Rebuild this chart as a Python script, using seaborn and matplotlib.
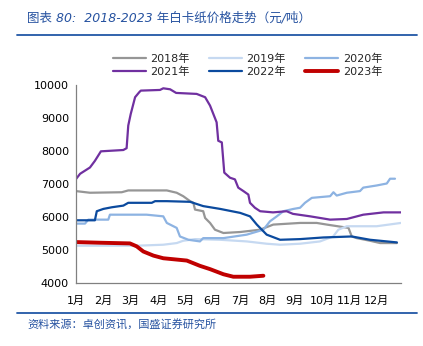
import numpy as np
import pandas as pd
import matplotlib
matplotlib.use("Agg")
import matplotlib.pyplot as plt
import seaborn as sns

# ---- data (x in months from Jan 1, value in yuan/ton) ----
x2018 = [0, 0.51, 1.67, 1.91, 3.32, 3.68, 3.92, 4.17, 4.29, 4.35, 4.65, 4.72, 4.90, 5.08, 5.39, 6.0, 6.73, 7.21, 8.19, 8.80, 9.17, 9.96, 10.08, 10.26, 10.75, 11.12, 11.73]
y2018 = [6785, 6735, 6750, 6805, 6805, 6735, 6630, 6480, 6430, 6225, 6175, 5970, 5820, 5615, 5515, 5545, 5615, 5770, 5820, 5820, 5770, 5670, 5410, 5360, 5280, 5210, 5210]

x2019 = [0, 2.22, 3.19, 3.68, 3.92, 4.35, 5.27, 6.24, 6.97, 7.46, 8.19, 8.92, 9.40, 9.59, 9.90, 10.99, 11.88]
y2019 = [5130, 5130, 5160, 5210, 5280, 5330, 5310, 5260, 5190, 5160, 5190, 5260, 5410, 5615, 5720, 5720, 5820]

x2020 = [0, 0.33, 0.45, 1.18, 1.24, 2.58, 3.19, 3.32, 3.68, 3.80, 4.11, 4.53, 4.65, 5.39, 6.24, 6.85, 7.09, 7.34, 7.58, 7.95, 8.19, 8.37, 8.62, 9.29, 9.41, 9.53, 9.90, 10.38, 10.50, 10.99, 11.36, 11.48, 11.66]
y2020 = [5800, 5800, 5920, 5920, 6070, 6070, 6020, 5820, 5670, 5410, 5310, 5260, 5360, 5360, 5465, 5615, 5870, 6020, 6175, 6245, 6280, 6430, 6580, 6630, 6750, 6650, 6735, 6785, 6890, 6955, 7015, 7160, 7160]

x2021 = [0, 0.15, 0.51, 0.69, 0.91, 1.73, 1.85, 1.91, 2.0, 2.16, 2.31, 2.37, 3.07, 3.19, 3.44, 3.66, 4.41, 4.72, 4.90, 5.14, 5.20, 5.33, 5.42, 5.63, 5.81, 5.93, 6.12, 6.30, 6.36, 6.54, 6.73, 7.20, 7.70, 7.93, 8.56, 9.29, 9.90, 10.50, 11.24, 11.88]
y2021 = [7150, 7310, 7500, 7700, 7990, 8030, 8085, 8770, 9120, 9630, 9780, 9830, 9850, 9900, 9870, 9760, 9730, 9630, 9375, 8870, 8310, 8260, 7345, 7190, 7140, 6890, 6785, 6680, 6430, 6280, 6175, 6140, 6175, 6095, 6020, 5920, 5940, 6070, 6140, 6140]

x2022 = [0, 0.69, 0.76, 1.0, 1.31, 1.73, 1.91, 2.77, 2.89, 3.32, 4.17, 4.65, 5.27, 6.0, 6.36, 6.61, 6.97, 7.46, 8.19, 9.04, 10.08, 10.75, 11.73]
y2022 = [5900, 5900, 6175, 6245, 6295, 6345, 6430, 6430, 6480, 6480, 6460, 6330, 6245, 6125, 6020, 5770, 5465, 5310, 5330, 5380, 5410, 5310, 5230]

x2023 = [0, 0.88, 1.97, 2.22, 2.46, 2.83, 3.19, 4.05, 4.53, 4.90, 5.39, 5.75, 6.36, 6.85]
y2023 = [5240, 5220, 5200, 5110, 4955, 4830, 4750, 4680, 4520, 4420, 4265, 4190, 4190, 4220]

series_names = ["2018年", "2019年", "2020年", "2021年", "2022年", "2023年"]
month_labels = [f"{i}月" for i in range(1, 13)]
y_ticks = [4000, 5000, 6000, 7000, 8000, 9000, 10000]

colors = {"2018年": "#969696", "2019年": "#c6d9f1", "2020年": "#8db3e2",
          "2021年": "#7030a0", "2022年": "#0b4a9e", "2023年": "#c00000"}
widths = {"2018年": 1.6, "2019年": 1.6, "2020年": 1.6, "2021年": 1.6, "2022年": 1.6, "2023年": 2.8}

sns.set_style("white")
plt.rcParams["font.family"] = ["DejaVu Sans", "Noto Sans CJK SC"]

fig = plt.figure(figsize=(4.23, 3.46), dpi=100)
ax = fig.add_axes([76/423, 1-283/346, (401-76)/423, (283-85)/346])

xs = [x2018, x2019, x2020, x2021, x2022, x2023]
ys = [y2018, y2019, y2020, y2021, y2022, y2023]
for name, xv, yv in zip(series_names, xs, ys):
    df = pd.DataFrame({"x": xv, "y": yv})
    sns.lineplot(data=df, x="x", y="y", ax=ax, color=colors[name],
                 linewidth=widths[name], label=name, estimator=None, sort=False)

ax.set_xlim(0, 11.88)
ax.set_ylim(4000, 10000)
ax.set_xticks(range(12))
ax.set_xticklabels(month_labels)
ax.set_yticks(y_ticks)
ax.set_yticklabels([str(v) for v in y_ticks])
ax.set_xlabel("")
ax.set_ylabel("")
for s in ["top", "right"]:
    ax.spines[s].set_visible(False)
for s in ["left", "bottom"]:
    ax.spines[s].set_color("#808080")
    ax.spines[s].set_linewidth(0.9)
ax.tick_params(axis="both", direction="in", length=4, width=0.8, color="#808080",
               labelsize=8, labelcolor="black", pad=5)
ax.tick_params(axis="x", pad=9)

handles, labels = ax.get_legend_handles_labels()
hmap = dict(zip(labels, handles))
order = ["2018年", "2021年", "2019年", "2022年", "2020年", "2023年"]
ax.legend([hmap[k] for k in order], order, ncol=3, frameon=False,
          loc="center", bbox_to_anchor=(0.585, 0.812), bbox_transform=fig.transFigure,
          fontsize=8, handlelength=3.0, columnspacing=1.7, handletextpad=0.4,
          labelspacing=0.25)

title_color = "#2652a0"
fig.text(27/423, 1-18/346, "图表 80:  2018-2023 年白卡纸价格走势（元/吨）",
         color=title_color, fontsize=9, style="italic",
         va="center", ha="left")
fig.add_artist(plt.Line2D([17/423, 417/423], [1-35/346, 1-35/346],
                          color="#2157a6", linewidth=1.3, transform=fig.transFigure))
fig.add_artist(plt.Line2D([17/423, 417/423], [1-313/346, 1-313/346],
                          color="#2157a6", linewidth=1.3, transform=fig.transFigure))
fig.text(27/423, 1-325/346, "资料来源：卓创资讯，国盛证券研究所",
         color=title_color, fontsize=8, style="italic", va="center", ha="left")

fig.savefig("out.png", dpi=100)
